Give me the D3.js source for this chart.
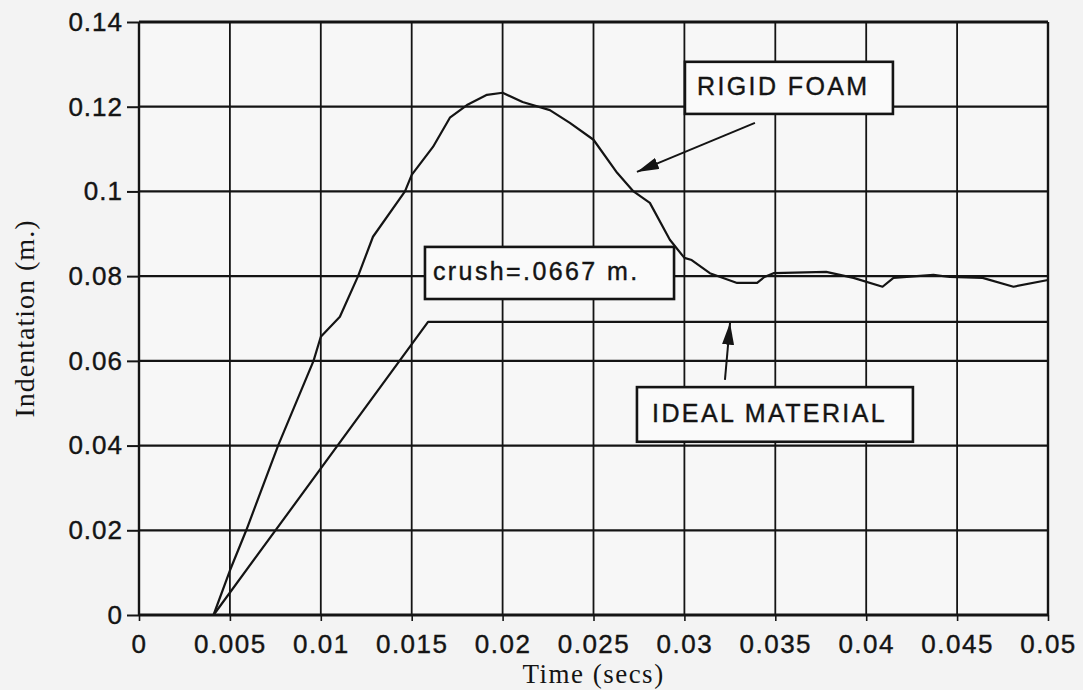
<!DOCTYPE html>
<html>
<head>
<meta charset="utf-8">
<script src="https://cdn.jsdelivr.net/npm/d3@7"></script>
<style>
  html, body { margin: 0; padding: 0; background: #f3f3f3; }
  svg { display: block; }
</style>
</head>
<body>
<svg id="chart" width="1083" height="690"></svg>
<script>
// ---------- data ----------
const xTicks = [0, 0.005, 0.01, 0.015, 0.02, 0.025, 0.03, 0.035, 0.04, 0.045, 0.05];
const xTickLabels = ["0", "0.005", "0.01", "0.015", "0.02", "0.025", "0.03", "0.035", "0.04", "0.045", "0.05"];
const yTicks = [0, 0.02, 0.04, 0.06, 0.08, 0.1, 0.12, 0.14];
const yTickLabels = ["0", "0.02", "0.04", "0.06", "0.08", "0.1", "0.12", "0.14"];

const foamTime = [0, 0.0041, 0.0050, 0.0059, 0.00765, 0.0096, 0.0100, 0.01105, 0.01205, 0.01287, 0.01463, 0.0150, 0.01617, 0.0171, 0.01804, 0.01914, 0.0200, 0.0211, 0.0226, 0.0237, 0.0250, 0.0263, 0.0272, 0.0281, 0.0292, 0.0300, 0.0304, 0.0314, 0.0329, 0.0340, 0.0344, 0.0349, 0.0378, 0.0393, 0.0409, 0.0415, 0.0437, 0.0446, 0.0464, 0.0481, 0.0500];
const foamIndent = [0, 0, 0.0105, 0.0200, 0.0400, 0.0600, 0.0657, 0.0704, 0.0800, 0.0893, 0.1000, 0.1039, 0.1105, 0.1174, 0.1204, 0.1228, 0.1233, 0.1211, 0.1192, 0.1162, 0.1122, 0.1044, 0.1000, 0.0973, 0.0886, 0.0843, 0.0838, 0.0807, 0.0784, 0.0784, 0.0798, 0.0807, 0.0810, 0.0796, 0.0775, 0.0796, 0.0803, 0.0798, 0.0796, 0.0775, 0.0791];

const idealTime = [0, 0.0041, 0.0159, 0.0500];
const idealIndent = [0, 0, 0.0692, 0.0692];

const labelRigid = "RIGID FOAM";
const labelCrush = "crush=.0667 m.";
const labelIdeal = "IDEAL MATERIAL";
const xTitle = "Time (secs)";
const yTitle = "Indentation (m.)";

// ---------- layout ----------
const svg = d3.select("#chart");
const x = d3.scaleLinear().domain([0, 0.05]).range([139, 1048]);
const y = d3.scaleLinear().domain([0, 0.14]).range([615, 22]);
const ink = "#141414";
const sansFont = "'Liberation Sans', Arial, Helvetica, sans-serif";
const serifFont = "'Liberation Serif', 'Times New Roman', serif";

svg.append("rect").attr("width", 1083).attr("height", 690).attr("fill", "#f3f3f3");
svg.append("rect")
  .attr("x", x(0)).attr("y", y(0.14))
  .attr("width", x(0.05) - x(0)).attr("height", y(0) - y(0.14))
  .attr("fill", "#f7f7f7");

// grid
const grid = svg.append("g");
grid.selectAll("line.h").data(yTicks).join("line")
  .attr("x1", x(0)).attr("x2", x(0.05))
  .attr("y1", d => y(d)).attr("y2", d => y(d))
  .attr("stroke", ink)
  .attr("stroke-width", d => (d === 0.14 || d === 0) ? 3 : 2.2);
grid.selectAll("line.v").data(xTicks).join("line")
  .attr("x1", d => x(d)).attr("x2", d => x(d))
  .attr("y1", y(0.14)).attr("y2", y(0))
  .attr("stroke", ink)
  .attr("stroke-width", d => (d === 0 || d === 0.05) ? 2.4 : 1.8);

// axes
const xAxis = d3.axisBottom(x).tickValues(xTicks).tickSize(6).tickPadding(7)
  .tickFormat((d, i) => xTickLabels[i]);
const gx = svg.append("g").attr("transform", `translate(0,${y(0)})`).call(xAxis);
gx.select(".domain").remove();
gx.selectAll(".tick line").attr("stroke", ink).attr("stroke-width", 1.6);
gx.selectAll(".tick text")
  .attr("fill", ink).attr("font-family", sansFont).attr("font-size", 26)
  .attr("letter-spacing", "1.5px").attr("dy", "0.95em")
  .attr("stroke", ink).attr("stroke-width", 0.4);

const yAxis = d3.axisLeft(y).tickValues(yTicks).tickSize(12).tickPadding(4)
  .tickFormat((d, i) => yTickLabels[i]);
const gy = svg.append("g").attr("transform", `translate(${x(0)},0)`).call(yAxis);
gy.select(".domain").remove();
gy.selectAll(".tick line").attr("stroke", ink).attr("stroke-width", 2);
gy.selectAll(".tick text")
  .attr("fill", ink).attr("font-family", sansFont).attr("font-size", 26)
  .attr("letter-spacing", "1px")
  .attr("stroke", ink).attr("stroke-width", 0.4);

// axis titles
svg.append("text")
  .attr("x", (x(0) + x(0.05)) / 2).attr("y", 683)
  .attr("text-anchor", "middle")
  .attr("font-family", serifFont).attr("font-size", 27)
  .attr("letter-spacing", "1.5px").attr("fill", ink)
  .text(xTitle);
svg.append("text")
  .attr("transform", `translate(34,${(y(0) + y(0.14)) / 2}) rotate(-90)`)
  .attr("text-anchor", "middle")
  .attr("font-family", serifFont).attr("font-size", 28)
  .attr("letter-spacing", "1px").attr("fill", ink)
  .text(yTitle);

// series
const line = d3.line().x(d => x(d[0])).y(d => y(d[1]));
const foam = foamTime.map((t, i) => [t, foamIndent[i]]);
const ideal = idealTime.map((t, i) => [t, idealIndent[i]]);
svg.append("path").datum(ideal).attr("d", line)
  .attr("fill", "none").attr("stroke", ink).attr("stroke-width", 2.2)
  .attr("stroke-linejoin", "round");
svg.append("path").datum(foam).attr("d", line)
  .attr("fill", "none").attr("stroke", ink).attr("stroke-width", 2.2)
  .attr("stroke-linejoin", "round");

// arrow marker
const defs = svg.append("defs");
defs.append("marker")
  .attr("id", "head").attr("markerUnits", "userSpaceOnUse")
  .attr("viewBox", "0 0 22 12").attr("refX", 22).attr("refY", 6)
  .attr("markerWidth", 22).attr("markerHeight", 12).attr("orient", "auto")
  .append("path").attr("d", "M0,0 L22,6 L0,12 Z").attr("fill", ink);

// annotation boxes (in data units)
function box(t0, v0, t1, v1, label, tx, ty) {
  svg.append("rect")
    .attr("x", x(t0)).attr("y", y(v0))
    .attr("width", x(t1) - x(t0)).attr("height", y(v1) - y(v0))
    .attr("fill", "#fafafa").attr("stroke", ink).attr("stroke-width", 2.6);
  svg.append("text")
    .attr("x", x(tx)).attr("y", y(ty))
    .attr("font-family", sansFont).attr("font-size", 25)
    .attr("letter-spacing", "2.4px").attr("fill", ink)
    .attr("stroke", ink).attr("stroke-width", 0.4)
    .text(label);
}
box(0.03003, 0.1306, 0.04147, 0.1183, labelRigid, 0.03069, 0.1228);
box(0.01573, 0.0869, 0.02943, 0.0746, labelCrush, 0.01617, 0.0791);
box(0.02739, 0.0538, 0.04257, 0.0409, labelIdeal, 0.02822, 0.0456);

// arrows
svg.append("line")
  .attr("x1", x(0.03388)).attr("y1", y(0.1162))
  .attr("x2", x(0.02739)).attr("y2", y(0.1046))
  .attr("stroke", ink).attr("stroke-width", 2).attr("marker-end", "url(#head)");
svg.append("line")
  .attr("x1", x(0.03223)).attr("y1", y(0.0555))
  .attr("x2", x(0.03251)).attr("y2", y(0.0690))
  .attr("stroke", ink).attr("stroke-width", 2).attr("marker-end", "url(#head)");
</script>
</body>
</html>
